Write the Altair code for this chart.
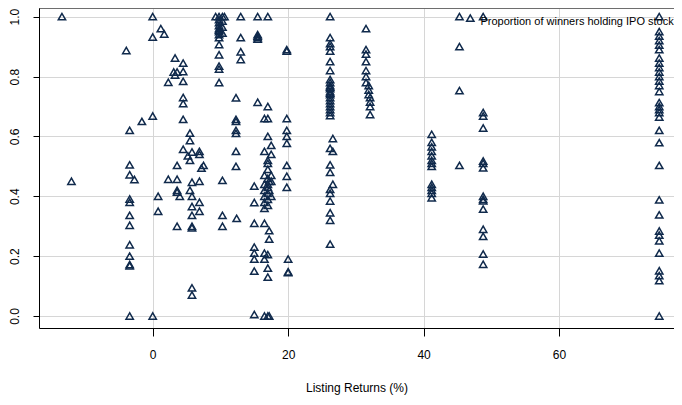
import altair as alt
import pandas as pd

# Listing return (%) of each column of points and the proportions read at it
col_returns = [-13.4, -12.0, -3.9, -3.4, -2.7, -1.6, 0.0, 0.8, 1.2, 1.7, 2.3, 3.1, 3.3, 3.6,
               4.0, 4.5, 5.2, 5.5, 5.8, 6.9, 7.2, 7.5, 9.3, 9.8, 10.3, 10.6, 12.3, 12.4,
               13.0, 15.0, 15.5, 16.5, 17.0, 17.2, 17.5, 19.8, 20.0, 26.2, 26.6, 31.5,
               31.9, 32.1, 41.2, 45.3, 48.8, 74.8]

col_shares = [
    [1.00],
    [0.45],
    [0.887],
    [0.62, 0.505, 0.472, 0.391, 0.38, 0.336, 0.303, 0.238, 0.20, 0.172, 0.168, 0.0],
    [0.456],
    [0.65],
    [1.0, 0.932, 0.668, 0.0],
    [0.40, 0.35],
    [0.96],
    [0.942],
    [0.781, 0.457],
    [0.815],
    [0.862, 0.805],
    [0.815, 0.503, 0.457, 0.42, 0.414, 0.30],
    [0.40],
    [0.845, 0.817, 0.784, 0.73, 0.71, 0.657, 0.557],
    [0.535],
    [0.611, 0.586, 0.52, 0.42],
    [0.548, 0.447, 0.40, 0.366, 0.336, 0.30, 0.295, 0.094, 0.07],
    [0.55, 0.54, 0.45, 0.38, 0.35],
    [0.494],
    [0.503],
    [1.0],
    [1.0, 0.99, 0.98, 0.97, 0.96, 0.955, 0.95, 0.94, 0.93, 0.907, 0.873, 0.835, 0.825, 0.78],
    [1.0, 0.985, 0.965, 0.945, 0.453, 0.336, 0.30],
    [1.0],
    [0.729, 0.657, 0.65, 0.62, 0.61, 0.55, 0.50],
    [0.326],
    [1.0, 0.93, 0.883, 0.857],
    [0.434, 0.379, 0.31, 0.23, 0.21, 0.19, 0.15, 0.005],
    [1.0, 0.94, 0.935, 0.93, 0.925, 0.714],
    [0.66, 0.55, 0.47, 0.44, 0.42, 0.40, 0.38, 0.36, 0.31, 0.21, 0.19, 0.0],
    [1.0, 0.70, 0.66, 0.60, 0.52, 0.51, 0.49, 0.46, 0.44, 0.43, 0.41, 0.39, 0.37, 0.205, 0.16, 0.13, 0.0],
    [0.285, 0.257, 0.0, 0.45, 0.42],
    [0.57, 0.54, 0.47, 0.45, 0.40],
    [0.89, 0.885, 0.66, 0.62, 0.60, 0.577, 0.503, 0.467, 0.43],
    [0.19, 0.148, 0.145],
    [1.0, 0.93, 0.91, 0.90, 0.885, 0.85, 0.82, 0.79, 0.78, 0.77, 0.765, 0.76, 0.75, 0.745,
     0.74, 0.73, 0.72, 0.71, 0.70, 0.69, 0.68, 0.67, 0.56, 0.505, 0.48, 0.423, 0.41, 0.384,
     0.345, 0.32, 0.24],
    [0.593, 0.55, 0.44],
    [0.96, 0.89, 0.875, 0.85, 0.82, 0.80, 0.78],
    [0.77, 0.755, 0.74],
    [0.73, 0.715, 0.70, 0.673],
    [0.607, 0.58, 0.565, 0.55, 0.535, 0.52, 0.51, 0.50, 0.44, 0.43, 0.42, 0.41, 0.395],
    [1.0, 0.90, 0.753, 0.503],
    [1.0, 0.68, 0.668, 0.628, 0.518, 0.51, 0.495, 0.40, 0.39, 0.385, 0.357, 0.29, 0.266,
     0.207, 0.173],
    [1.0, 0.95, 0.935, 0.92, 0.905, 0.89, 0.862, 0.845, 0.83, 0.815, 0.80, 0.785, 0.77, 0.75,
     0.713, 0.70, 0.69, 0.68, 0.665, 0.62, 0.579, 0.503, 0.388, 0.338, 0.284, 0.27, 0.251,
     0.21, 0.151, 0.135, 0.118, 0.0],
]

legend_label = ["Proportion of winners holding IPO stock"]
x_ticks = [0, 20, 40, 60]
y_ticks = [0.0, 0.2, 0.4, 0.6, 0.8, 1.0]

rows = []
for xr, ys in zip(col_returns, col_shares):
    for yv in ys:
        rows.append({"ret": xr, "share": yv})
df = pd.DataFrame(rows)

NAVY = "#102a4c"
FONT = "Liberation Sans"

xscale = alt.Scale(domain=[-16.79, 76.98], nice=False, zero=False)
yscale = alt.Scale(domain=[-0.0401, 1.029], nice=False, zero=False)

xaxis = alt.Axis(values=x_ticks, format="d", title="Listing Returns (%)", grid=True,
                 gridColor="#d6d6d6", domain=True, domainColor="black", tickColor="black",
                 tickSize=8, labelPadding=13, labelFontSize=12, titleFontSize=12,
                 titleFontWeight="normal", titlePadding=22, labelFont=FONT, titleFont=FONT,
                 labelColor="black", titleColor="black")
yaxis = alt.Axis(values=y_ticks, format=".1f", title=None, grid=True, gridColor="#d6d6d6",
                 domain=True, domainColor="black", tickColor="black", tickSize=6,
                 labelPadding=12, labelFontSize=12, labelAngle=270, labelAlign="center",
                 labelBaseline="bottom", labelFont=FONT, labelColor="black")

points = alt.Chart(df).mark_point(shape="triangle-up", filled=False, size=54,
                                  strokeWidth=1.5, color=NAVY, opacity=1).encode(
    x=alt.X("ret:Q", scale=xscale, axis=xaxis),
    y=alt.Y("share:Q", scale=yscale, axis=yaxis),
)

frame_top = alt.Chart(pd.DataFrame({"a": [0]})).mark_rule(color="black", strokeWidth=1).encode(
    y=alt.value(0)
)

leg_df = pd.DataFrame({"ret": [46.9], "share": [0.995], "tx": [48.4], "ty": [0.982],
                       "label": legend_label})
leg_sym = alt.Chart(leg_df).mark_point(shape="triangle-up", filled=False, size=54,
                                       strokeWidth=1.5, color=NAVY, opacity=1).encode(
    x=alt.X("ret:Q", scale=xscale), y=alt.Y("share:Q", scale=yscale))
leg_txt = alt.Chart(leg_df).mark_text(align="left", baseline="middle", fontSize=11,
                                      font=FONT, color="black").encode(
    x=alt.X("tx:Q", scale=xscale), y=alt.Y("ty:Q", scale=yscale), text="label:N")

chart = alt.layer(frame_top, points, leg_sym, leg_txt).properties(
    width=635, height=320,
    autosize=alt.AutoSizeParams(type="none"),
    padding={"left": 31, "top": 0, "right": 0, "bottom": 68},
).configure_view(stroke=None).configure(background="white")

chart.save("out.html", embed_options={"renderer": "svg", "actions": False})
